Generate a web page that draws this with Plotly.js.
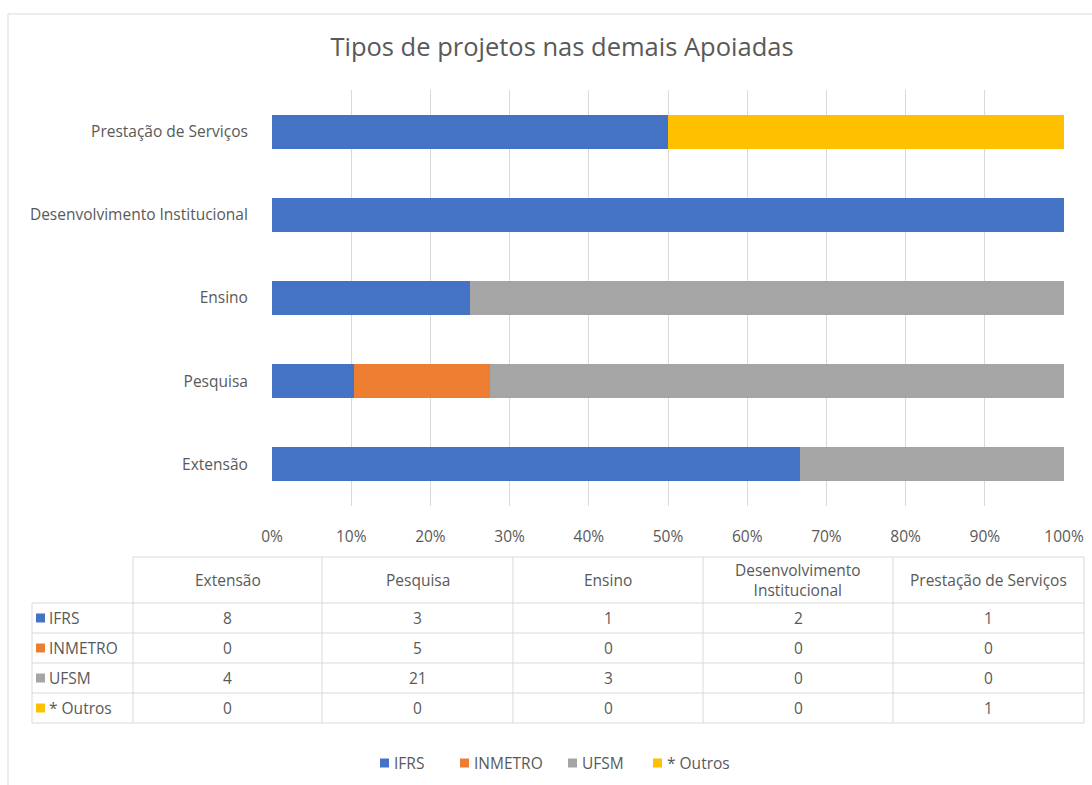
<!DOCTYPE html>
<html>
<head>
<meta charset="utf-8">
<script src="https://cdn.plot.ly/plotly-3.0.1.min.js"></script>
<style>html,body{margin:0;padding:0;background:#fff;}#chart{width:1092px;height:785px;}</style>
</head>
<body>
<div id="chart"></div>
<script>
// ---- data ----
const categories = ["Extensão", "Pesquisa", "Ensino", "Desenvolvimento Institucional", "Prestação de Serviços"];
const tableHeaders = ["Extensão", "Pesquisa", "Ensino", "Desenvolvimento<br>Institucional", "Prestação de Serviços"];
const seriesNames = ["IFRS", "INMETRO", "UFSM", "* Outros"];
const ifrs    = [8, 3, 1, 2, 1];
const inmetro = [0, 5, 0, 0, 0];
const ufsm    = [4, 21, 3, 0, 0];
const outros  = [0, 0, 0, 0, 1];
const seriesValues = [ifrs, inmetro, ufsm, outros];
const colors = ["#4472C4", "#ED7D31", "#A5A5A5", "#FFC000"];
const xTickVals = [0, 10, 20, 30, 40, 50, 60, 70, 80, 90, 100];
const xTickText = ["0%", "10%", "20%", "30%", "40%", "50%", "60%", "70%", "80%", "90%", "100%"];

// ---- layout helpers (pixel -> paper) ----
const W = 1092, H = 785;
const L = 272, R = 1064, T = 90, B = 506;
const px = x => (x - L) / (R - L);
const py = y => (B - y) / (B - T);

const font = "Open Sans, Noto Sans, sans-serif";
const txt = "#595959";
const fs = 15.5;

const traces = seriesValues.map((vals, i) => ({
  type: "bar",
  orientation: "h",
  name: seriesNames[i],
  y: categories,
  x: vals,
  marker: {color: colors[i]},
  hoverinfo: "x+y+name",
  showlegend: false
}));

const shapes = [];
const annotations = [];

// outer chart border
shapes.push({type: "rect", xref: "paper", yref: "paper", x0: px(8), x1: px(1110), y0: py(14), y1: py(810),
  line: {color: "#D9D9D9", width: 1}, fillcolor: "rgba(0,0,0,0)", layer: "below"});

// table geometry
const colEdges = [32, 133, 322, 513, 703, 893, 1084];
const rowEdges = [557, 603, 633, 663, 693, 723];
const lineColor = "#D9D9D9";
rowEdges.forEach((y, k) => {
  shapes.push({type: "line", xref: "paper", yref: "paper",
    x0: px(k === 0 ? colEdges[1] : colEdges[0]), x1: px(colEdges[colEdges.length - 1]),
    y0: py(y), y1: py(y), line: {color: lineColor, width: 1}});
});
colEdges.forEach((x, k) => {
  shapes.push({type: "line", xref: "paper", yref: "paper",
    x0: px(x), x1: px(x), y0: py(k === 0 ? rowEdges[1] : rowEdges[0]), y1: py(rowEdges[rowEdges.length - 1]),
    line: {color: lineColor, width: 1}});
});
tableHeaders.forEach((h, j) => {
  annotations.push({xref: "paper", yref: "paper", x: px((colEdges[j + 1] + colEdges[j + 2]) / 2), y: py(580),
    text: h, showarrow: false, xanchor: "center", yanchor: "middle",
    font: {family: font, size: fs, color: txt}});
});
seriesNames.forEach((s, i) => {
  const yc = (rowEdges[i + 1] + rowEdges[i + 2]) / 2;
  shapes.push({type: "rect", xref: "paper", yref: "paper", x0: px(36), x1: px(45), y0: py(yc - 4.5), y1: py(yc + 4.5),
    fillcolor: colors[i], line: {width: 0}});
  annotations.push({xref: "paper", yref: "paper", x: px(47), y: py(yc), text: s, showarrow: false,
    xanchor: "left", yanchor: "middle", font: {family: font, size: fs, color: txt}});
  seriesValues[i].forEach((v, j) => {
    annotations.push({xref: "paper", yref: "paper", x: px((colEdges[j + 1] + colEdges[j + 2]) / 2), y: py(yc),
      text: String(v), showarrow: false, xanchor: "center", yanchor: "middle",
      font: {family: font, size: fs, color: txt}});
  });
});

// bottom legend (custom, compact like the original)
const legendX = [380, 460, 568, 653];
seriesNames.forEach((s, i) => {
  const yc = 763;
  shapes.push({type: "rect", xref: "paper", yref: "paper", x0: px(legendX[i]), x1: px(legendX[i] + 9),
    y0: py(yc - 4.5), y1: py(yc + 4.5), fillcolor: colors[i], line: {width: 0}});
  annotations.push({xref: "paper", yref: "paper", x: px(legendX[i] + 12), y: py(yc), text: s, showarrow: false,
    xanchor: "left", yanchor: "middle", font: {family: font, size: fs, color: txt}});
});

const layout = {
  width: W, height: H,
  paper_bgcolor: "#fff", plot_bgcolor: "#fff",
  margin: {l: L, r: W - R, t: T, b: H - B, pad: 0},
  barmode: "stack",
  barnorm: "percent",
  bargap: 0.59,
  title: {text: "Tipos de projetos nas demais Apoiadas", x: px(562), xref: "paper", xanchor: "center",
    y: 1 - 47 / H, yanchor: "middle",
    font: {family: font, size: 25.5, color: txt}},
  xaxis: {range: [0, 100], tickvals: xTickVals, ticktext: xTickText, showgrid: true, gridcolor: "#D9D9D9",
    gridwidth: 1, zeroline: false, showline: false, ticks: "outside", ticklen: 16, tickcolor: "rgba(0,0,0,0)",
    tickfont: {family: font, size: fs, color: txt}, fixedrange: true},
  yaxis: {type: "category", categoryorder: "array", categoryarray: categories, showgrid: false, zeroline: false,
    showline: false, ticks: "outside", ticklen: 20, tickcolor: "rgba(0,0,0,0)",
    tickfont: {family: font, size: fs, color: txt}, automargin: false, fixedrange: true},
  showlegend: false,
  shapes: shapes,
  annotations: annotations
};

Plotly.newPlot("chart", traces, layout, {displayModeBar: false, staticPlot: true});
</script>
</body>
</html>
